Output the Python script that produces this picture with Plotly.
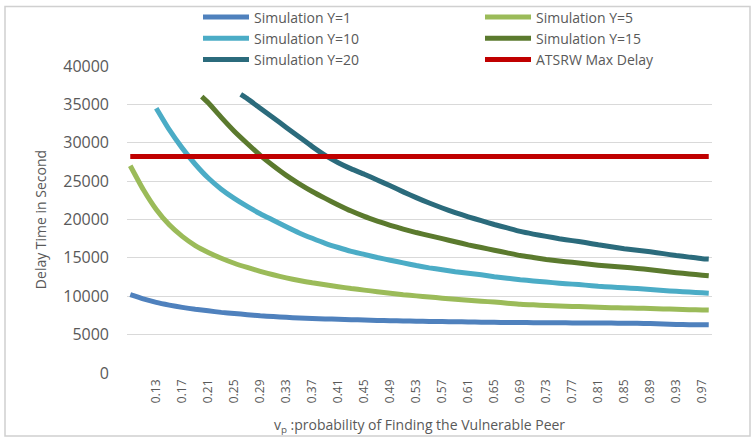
import plotly.graph_objects as go

# ---- data ----
x_y1 = [0.09, 0.11, 0.13, 0.15, 0.17, 0.19, 0.21, 0.23, 0.25, 0.27, 0.29, 0.31, 0.33, 0.35, 0.37, 0.39,
        0.41, 0.43, 0.45, 0.47, 0.49, 0.51, 0.53, 0.55, 0.57, 0.59, 0.61, 0.63, 0.65, 0.67, 0.69, 0.71,
        0.73, 0.75, 0.77, 0.79, 0.81, 0.83, 0.85, 0.87, 0.89, 0.91, 0.93, 0.95, 0.97, 0.98]
sim_y1 = [10200, 9650, 9200, 8850, 8550, 8300, 8100, 7900, 7750, 7600, 7450, 7350, 7250, 7180, 7100, 7050,
          7000, 6950, 6900, 6850, 6820, 6780, 6750, 6720, 6700, 6680, 6650, 6620, 6600, 6580, 6570, 6560,
          6550, 6540, 6530, 6520, 6510, 6500, 6490, 6480, 6450, 6400, 6330, 6300, 6300, 6290]

x_y5 = x_y1
sim_y5 = [27000, 23900, 21300, 19300, 17800, 16600, 15700, 14950, 14300, 13750, 13250, 12800, 12400, 12050, 11750, 11500,
          11250, 11000, 10800, 10600, 10400, 10200, 10050, 9900, 9750, 9600, 9480, 9350, 9250, 9100, 8950, 8880,
          8800, 8720, 8680, 8620, 8560, 8510, 8480, 8450, 8400, 8350, 8300, 8250, 8220, 8200]

x_y10 = [0.13, 0.15, 0.17, 0.19, 0.21, 0.23, 0.25, 0.27, 0.29, 0.31, 0.33, 0.35, 0.37, 0.39,
         0.41, 0.43, 0.45, 0.47, 0.49, 0.51, 0.53, 0.55, 0.57, 0.59, 0.61, 0.63, 0.65, 0.67, 0.69, 0.71,
         0.73, 0.75, 0.77, 0.79, 0.81, 0.83, 0.85, 0.87, 0.89, 0.91, 0.93, 0.95, 0.97, 0.98]
sim_y10 = [34500, 31700, 29300, 27200, 25400, 23950, 22750, 21700, 20750, 19900, 19050, 18250, 17550, 16900,
           16350, 15850, 15450, 15050, 14700, 14350, 14000, 13700, 13450, 13200, 13000, 12800, 12550, 12350, 12150, 12000,
           11850, 11700, 11580, 11450, 11300, 11200, 11100, 11000, 10880, 10750, 10650, 10550, 10450, 10400]

x_y15 = [0.20, 0.21, 0.23, 0.25, 0.27, 0.29, 0.31, 0.33, 0.35, 0.37, 0.39,
         0.41, 0.43, 0.45, 0.47, 0.49, 0.51, 0.53, 0.55, 0.57, 0.59, 0.61, 0.63, 0.65, 0.67, 0.69, 0.71,
         0.73, 0.75, 0.77, 0.79, 0.81, 0.83, 0.85, 0.87, 0.89, 0.91, 0.93, 0.95, 0.97, 0.98]
sim_y15 = [36000, 35200, 33300, 31500, 29900, 28350, 27000, 25750, 24650, 23650, 22750,
           21900, 21100, 20400, 19800, 19250, 18750, 18300, 17900, 17500, 17100, 16700, 16350, 16000, 15650, 15300, 15050,
           14800, 14600, 14420, 14230, 14050, 13900, 13770, 13630, 13450, 13250, 13070, 12900, 12750, 12680]

x_y20 = [0.26, 0.27, 0.29, 0.31, 0.33, 0.35, 0.37, 0.39,
         0.41, 0.43, 0.45, 0.47, 0.49, 0.51, 0.53, 0.55, 0.57, 0.59, 0.61, 0.63, 0.65, 0.67, 0.69, 0.71,
         0.73, 0.75, 0.77, 0.79, 0.81, 0.83, 0.85, 0.87, 0.89, 0.91, 0.93, 0.95, 0.97, 0.98]
sim_y20 = [36300, 35750, 34500, 33250, 32000, 30750, 29500, 28350,
           27400, 26600, 25900, 25150, 24400, 23600, 22850, 22150, 21500, 20900, 20350, 19850, 19350, 18900, 18450, 18100,
           17800, 17500, 17250, 17000, 16700, 16450, 16200, 16000, 15800, 15550, 15300, 15100, 14900, 14850]

x_atsrw = [0.09, 0.98]
atsrw_max = [28200, 28200]

tick_vals = [0.13, 0.17, 0.21, 0.25, 0.29, 0.33, 0.37, 0.41, 0.45, 0.49, 0.53,
             0.57, 0.61, 0.65, 0.69, 0.73, 0.77, 0.81, 0.85, 0.89, 0.93, 0.97]
tick_text = ["0.13", "0.17", "0.21", "0.25", "0.29", "0.33", "0.37", "0.41", "0.45", "0.49", "0.53",
             "0.57", "0.61", "0.65", "0.69", "0.73", "0.77", "0.81", "0.85", "0.89", "0.93", "0.97"]
y_ticks = [0, 5000, 10000, 15000, 20000, 25000, 30000, 35000, 40000]
y_tick_text = ["0", "5000", "10000", "15000", "20000", "25000", "30000", "35000", "40000"]

FONT = "Open Sans"
GRAY = "#595959"

series = [
    ("Simulation Y=1", x_y1, sim_y1, "#4F81BD", "legend"),
    ("Simulation Y=5", x_y5, sim_y5, "#9BBB59", "legend2"),
    ("Simulation Y=10", x_y10, sim_y10, "#4BACC6", "legend"),
    ("Simulation Y=15", x_y15, sim_y15, "#5B7A2E", "legend2"),
    ("Simulation Y=20", x_y20, sim_y20, "#2B6B7C", "legend"),
    ("ATSRW Max Delay", x_atsrw, atsrw_max, "#C00000", "legend2"),
]

fig = go.Figure()
for name, xs, ys, col, lg in series:
    fig.add_trace(go.Scatter(x=xs, y=ys, mode="lines", name=name, legend=lg,
                             line=dict(color=col, width=5, shape="spline", smoothing=0.5)))

L, R, T, B = 127, 43, 66, 64
W, H = 755, 437
pw, ph = W - L - R, H - T - B

def px_x(p):
    return (p - L) / pw

def px_y(p):
    return (H - B - p) / ph

legend_common = dict(orientation="v", xanchor="left", yanchor="top", itemwidth=46,
                     font=dict(family=FONT, size=14, color=GRAY), bgcolor="rgba(0,0,0,0)",
                     tracegroupgap=0, itemclick=False)

fig.update_layout(
    width=W, height=H,
    margin=dict(l=L, r=R, t=T, b=B, autoexpand=False),
    paper_bgcolor="white", plot_bgcolor="white",
    font=dict(family=FONT, color=GRAY),
    legend=dict(x=px_x(198), y=px_y(1.5), **legend_common),
    legend2=dict(x=px_x(480), y=px_y(1.5), **legend_common),
    xaxis=dict(range=[0.085, 0.985], tickmode="array", tickvals=tick_vals, ticktext=tick_text,
               tickangle=-90, tickfont=dict(family=FONT, size=12, color=GRAY),
               showgrid=False, zeroline=False, showline=False, ticks="",
               ticklabelstandoff=3, automargin=False,
               title=dict(text="v<sub>p</sub> :probability of Finding the Vulnerable Peer",
                          font=dict(family=FONT, size=14, color=GRAY), standoff=18)),
    yaxis=dict(range=[0, 40000], tickmode="array", tickvals=y_ticks, ticktext=y_tick_text,
               tickfont=dict(family=FONT, size=16, color=GRAY),
               showgrid=True, gridcolor="#D9D9D9", gridwidth=1, zeroline=False,
               showline=False, ticks="", ticklabelstandoff=17, automargin=False,
               title=dict(text="Delay Time in Second", font=dict(family=FONT, size=14, color=GRAY),
                          standoff=13)),
    shapes=[dict(type="rect", xref="paper", yref="paper",
                 x0=px_x(5), x1=px_x(750), y0=px_y(436), y1=px_y(6.5),
                 line=dict(color="#D0D0D0", width=1.5), fillcolor="rgba(0,0,0,0)", layer="below")],
)

fig.write_html("out.html", config={"displayModeBar": False},
               post_script="document.body.style.margin='0';document.body.style.overflow='hidden';")
